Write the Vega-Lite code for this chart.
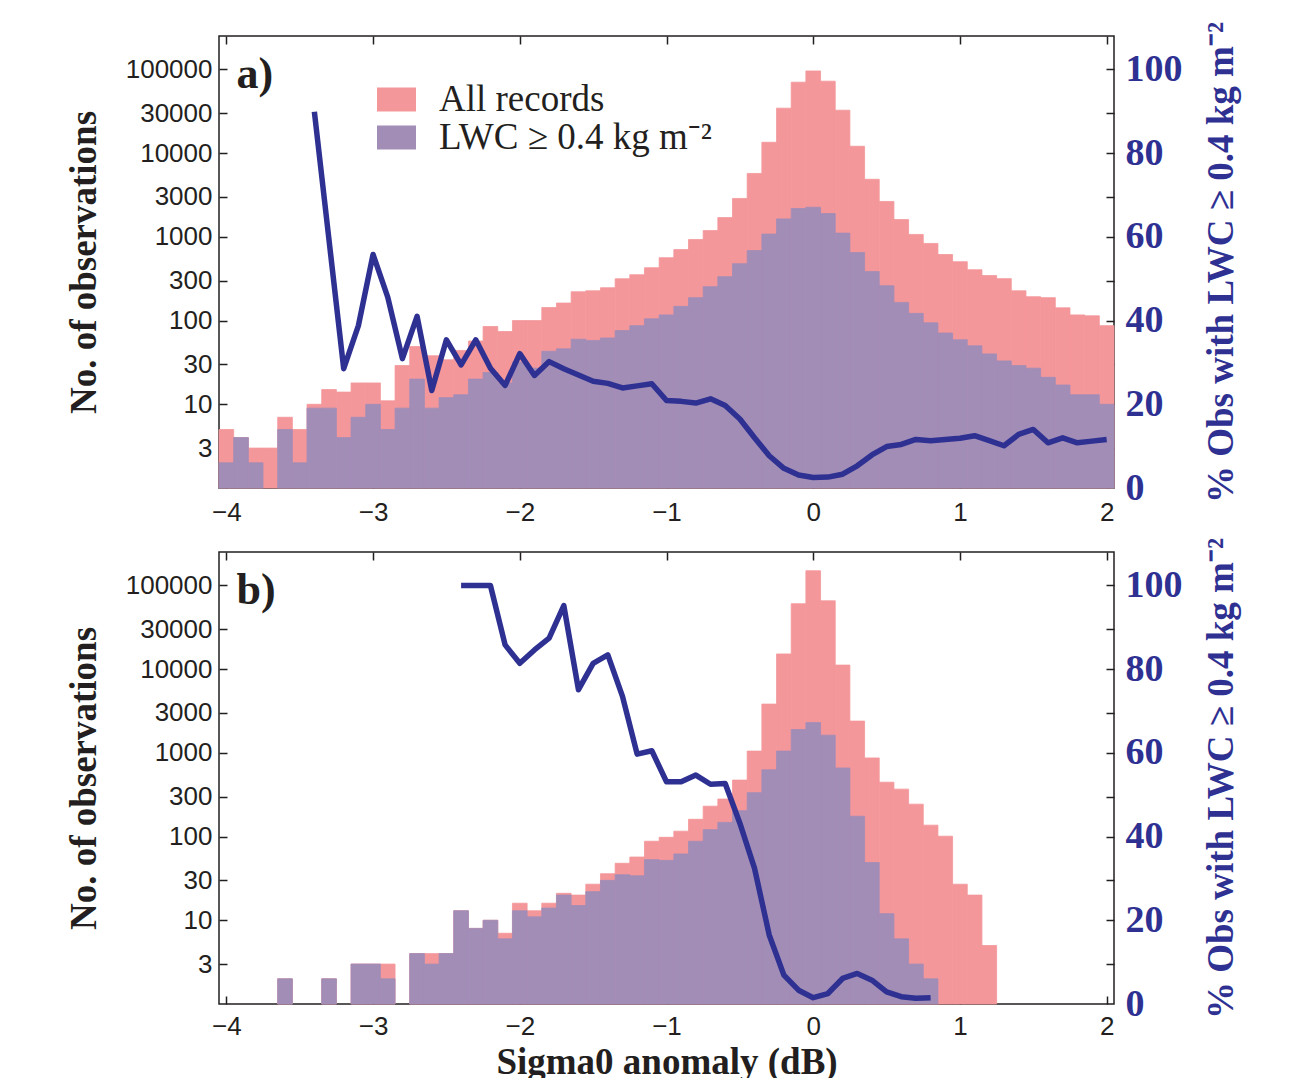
{
  "$schema": "https://vega.github.io/schema/vega-lite/v6.json",
  "padding": {"left": 64, "top": 20, "right": 5, "bottom": 5},
  "background": "white",
  "datasets": {
    "barsA": [
      {"lo": -4.05, "hi": -3.95, "all": 5, "lwc": 2},
      {"lo": -3.95, "hi": -3.85, "all": 4, "lwc": 4},
      {"lo": -3.85, "hi": -3.75, "all": 3, "lwc": 2},
      {"lo": -3.75, "hi": -3.65, "all": 3, "lwc": null},
      {"lo": -3.65, "hi": -3.55, "all": 7, "lwc": 5},
      {"lo": -3.55, "hi": -3.45, "all": 5, "lwc": 2},
      {"lo": -3.45, "hi": -3.35, "all": 10, "lwc": 9},
      {"lo": -3.35, "hi": -3.25, "all": 15, "lwc": 9},
      {"lo": -3.25, "hi": -3.15, "all": 14, "lwc": 4},
      {"lo": -3.15, "hi": -3.05, "all": 18, "lwc": 7},
      {"lo": -3.05, "hi": -2.95, "all": 18, "lwc": 10},
      {"lo": -2.95, "hi": -2.85, "all": 11, "lwc": 5},
      {"lo": -2.85, "hi": -2.75, "all": 29, "lwc": 9},
      {"lo": -2.75, "hi": -2.65, "all": 49, "lwc": 20},
      {"lo": -2.65, "hi": -2.55, "all": 38, "lwc": 9},
      {"lo": -2.55, "hi": -2.45, "all": 34, "lwc": 12},
      {"lo": -2.45, "hi": -2.35, "all": 44, "lwc": 13},
      {"lo": -2.35, "hi": -2.25, "all": 57, "lwc": 20},
      {"lo": -2.25, "hi": -2.15, "all": 85, "lwc": 24},
      {"lo": -2.15, "hi": -2.05, "all": 74, "lwc": 18},
      {"lo": -2.05, "hi": -1.95, "all": 100, "lwc": 32},
      {"lo": -1.95, "hi": -1.85, "all": 100, "lwc": 27},
      {"lo": -1.85, "hi": -1.75, "all": 143, "lwc": 43},
      {"lo": -1.75, "hi": -1.65, "all": 162, "lwc": 46},
      {"lo": -1.65, "hi": -1.55, "all": 221, "lwc": 60},
      {"lo": -1.55, "hi": -1.45, "all": 227, "lwc": 58},
      {"lo": -1.45, "hi": -1.35, "all": 247, "lwc": 62},
      {"lo": -1.35, "hi": -1.25, "all": 316, "lwc": 76},
      {"lo": -1.25, "hi": -1.15, "all": 353, "lwc": 87},
      {"lo": -1.15, "hi": -1.05, "all": 428, "lwc": 105},
      {"lo": -1.05, "hi": -0.95, "all": 564, "lwc": 117},
      {"lo": -0.95, "hi": -0.85, "all": 705, "lwc": 148},
      {"lo": -0.85, "hi": -0.75, "all": 930, "lwc": 188},
      {"lo": -0.75, "hi": -0.65, "all": 1190, "lwc": 254},
      {"lo": -0.65, "hi": -0.55, "all": 1700, "lwc": 335},
      {"lo": -0.55, "hi": -0.45, "all": 2880, "lwc": 478},
      {"lo": -0.45, "hi": -0.35, "all": 5730, "lwc": 686},
      {"lo": -0.35, "hi": -0.25, "all": 13500, "lwc": 1080},
      {"lo": -0.25, "hi": -0.15, "all": 34500, "lwc": 1640},
      {"lo": -0.15, "hi": -0.05, "all": 70500, "lwc": 2180},
      {"lo": -0.05, "hi": 0.05, "all": 96000, "lwc": 2260},
      {"lo": 0.05, "hi": 0.15, "all": 72500, "lwc": 1900},
      {"lo": 0.15, "hi": 0.25, "all": 32600, "lwc": 1110},
      {"lo": 0.25, "hi": 0.35, "all": 12100, "lwc": 650},
      {"lo": 0.35, "hi": 0.45, "all": 4880, "lwc": 385},
      {"lo": 0.45, "hi": 0.55, "all": 2650, "lwc": 261},
      {"lo": 0.55, "hi": 0.65, "all": 1610, "lwc": 165},
      {"lo": 0.65, "hi": 0.75, "all": 1070, "lwc": 122},
      {"lo": 0.75, "hi": 0.85, "all": 835, "lwc": 94},
      {"lo": 0.85, "hi": 0.95, "all": 616, "lwc": 71},
      {"lo": 0.95, "hi": 1.05, "all": 505, "lwc": 59},
      {"lo": 1.05, "hi": 1.15, "all": 405, "lwc": 50},
      {"lo": 1.15, "hi": 1.25, "all": 345, "lwc": 40},
      {"lo": 1.25, "hi": 1.35, "all": 317, "lwc": 33},
      {"lo": 1.35, "hi": 1.45, "all": 227, "lwc": 29},
      {"lo": 1.45, "hi": 1.55, "all": 193, "lwc": 27},
      {"lo": 1.55, "hi": 1.65, "all": 188, "lwc": 21},
      {"lo": 1.65, "hi": 1.75, "all": 142, "lwc": 17},
      {"lo": 1.75, "hi": 1.85, "all": 117, "lwc": 13},
      {"lo": 1.85, "hi": 1.95, "all": 114, "lwc": 13},
      {"lo": 1.95, "hi": 2.05, "all": 87, "lwc": 10}
    ],
    "lineA": [
      {"c": -3.4, "pct": 89.9}, {"c": -3.3, "pct": 59.2}, {"c": -3.2, "pct": 28.5}, {"c": -3.1, "pct": 38.8},
      {"c": -3.0, "pct": 55.8}, {"c": -2.9, "pct": 45.6}, {"c": -2.8, "pct": 30.9}, {"c": -2.7, "pct": 41.0},
      {"c": -2.6, "pct": 23.3}, {"c": -2.5, "pct": 35.4}, {"c": -2.4, "pct": 29.4}, {"c": -2.3, "pct": 35.4},
      {"c": -2.2, "pct": 28.6}, {"c": -2.1, "pct": 24.5}, {"c": -2.0, "pct": 32.1}, {"c": -1.9, "pct": 26.9},
      {"c": -1.8, "pct": 30.2}, {"c": -1.7, "pct": 28.5}, {"c": -1.6, "pct": 27.0}, {"c": -1.5, "pct": 25.5},
      {"c": -1.4, "pct": 25.0}, {"c": -1.3, "pct": 23.9}, {"c": -1.2, "pct": 24.4}, {"c": -1.1, "pct": 24.9},
      {"c": -1.0, "pct": 20.9}, {"c": -0.9, "pct": 20.7}, {"c": -0.8, "pct": 20.3}, {"c": -0.7, "pct": 21.3},
      {"c": -0.6, "pct": 19.7}, {"c": -0.5, "pct": 16.5}, {"c": -0.4, "pct": 12.0}, {"c": -0.3, "pct": 7.7},
      {"c": -0.2, "pct": 4.7}, {"c": -0.1, "pct": 3.1}, {"c": 0.0, "pct": 2.5}, {"c": 0.1, "pct": 2.6},
      {"c": 0.2, "pct": 3.3}, {"c": 0.3, "pct": 5.3}, {"c": 0.4, "pct": 7.9}, {"c": 0.5, "pct": 9.9},
      {"c": 0.6, "pct": 10.4}, {"c": 0.7, "pct": 11.6}, {"c": 0.8, "pct": 11.3}, {"c": 0.9, "pct": 11.6},
      {"c": 1.0, "pct": 11.9}, {"c": 1.1, "pct": 12.5}, {"c": 1.2, "pct": 11.3}, {"c": 1.3, "pct": 10.1},
      {"c": 1.4, "pct": 12.8}, {"c": 1.5, "pct": 14.0}, {"c": 1.6, "pct": 10.8}, {"c": 1.7, "pct": 12.0},
      {"c": 1.8, "pct": 10.8}, {"c": 1.9, "pct": 11.2}, {"c": 2.0, "pct": 11.6}
    ],
    "barsB": [
      {"lo": -3.65, "hi": -3.55, "all": 2, "lwc": 2},
      {"lo": -3.35, "hi": -3.25, "all": 2, "lwc": 2},
      {"lo": -3.15, "hi": -3.05, "all": 3, "lwc": 3},
      {"lo": -3.05, "hi": -2.95, "all": 3, "lwc": 3},
      {"lo": -2.95, "hi": -2.85, "all": 3, "lwc": 2},
      {"lo": -2.75, "hi": -2.65, "all": 4, "lwc": 4},
      {"lo": -2.65, "hi": -2.55, "all": 4, "lwc": 3},
      {"lo": -2.55, "hi": -2.45, "all": 4, "lwc": 4},
      {"lo": -2.45, "hi": -2.35, "all": 13, "lwc": 13},
      {"lo": -2.35, "hi": -2.25, "all": 8, "lwc": 8},
      {"lo": -2.25, "hi": -2.15, "all": 10, "lwc": 10},
      {"lo": -2.15, "hi": -2.05, "all": 7, "lwc": 6},
      {"lo": -2.05, "hi": -1.95, "all": 16, "lwc": 13},
      {"lo": -1.95, "hi": -1.85, "all": 13, "lwc": 11},
      {"lo": -1.85, "hi": -1.75, "all": 16, "lwc": 14},
      {"lo": -1.75, "hi": -1.65, "all": 21, "lwc": 20},
      {"lo": -1.65, "hi": -1.55, "all": 20, "lwc": 15},
      {"lo": -1.55, "hi": -1.45, "all": 27, "lwc": 22},
      {"lo": -1.45, "hi": -1.35, "all": 36, "lwc": 30},
      {"lo": -1.35, "hi": -1.25, "all": 48, "lwc": 35},
      {"lo": -1.25, "hi": -1.15, "all": 57, "lwc": 34},
      {"lo": -1.15, "hi": -1.05, "all": 88, "lwc": 53},
      {"lo": -1.05, "hi": -0.95, "all": 98, "lwc": 52},
      {"lo": -0.95, "hi": -0.85, "all": 116, "lwc": 62},
      {"lo": -0.85, "hi": -0.75, "all": 161, "lwc": 88},
      {"lo": -0.75, "hi": -0.65, "all": 231, "lwc": 121},
      {"lo": -0.65, "hi": -0.55, "all": 281, "lwc": 148},
      {"lo": -0.55, "hi": -0.45, "all": 473, "lwc": 204},
      {"lo": -0.45, "hi": -0.35, "all": 1050, "lwc": 335},
      {"lo": -0.35, "hi": -0.25, "all": 3830, "lwc": 628},
      {"lo": -0.25, "hi": -0.15, "all": 15200, "lwc": 1050},
      {"lo": -0.15, "hi": -0.05, "all": 60500, "lwc": 1900},
      {"lo": -0.05, "hi": 0.05, "all": 150000, "lwc": 2300},
      {"lo": 0.05, "hi": 0.15, "all": 65600, "lwc": 1630},
      {"lo": 0.15, "hi": 0.25, "all": 11200, "lwc": 660},
      {"lo": 0.25, "hi": 0.35, "all": 2400, "lwc": 175},
      {"lo": 0.35, "hi": 0.45, "all": 870, "lwc": 49},
      {"lo": 0.45, "hi": 0.55, "all": 447, "lwc": 12},
      {"lo": 0.55, "hi": 0.65, "all": 369, "lwc": 6},
      {"lo": 0.65, "hi": 0.75, "all": 244, "lwc": 3},
      {"lo": 0.75, "hi": 0.85, "all": 137, "lwc": 2},
      {"lo": 0.85, "hi": 0.95, "all": 101, "lwc": null},
      {"lo": 0.95, "hi": 1.05, "all": 27, "lwc": null},
      {"lo": 1.05, "hi": 1.15, "all": 20, "lwc": null},
      {"lo": 1.15, "hi": 1.25, "all": 5, "lwc": null}
    ],
    "lineB": [
      {"c": -2.4, "pct": 100}, {"c": -2.3, "pct": 100}, {"c": -2.2, "pct": 100}, {"c": -2.1, "pct": 85.8},
      {"c": -2.0, "pct": 81.4}, {"c": -1.9, "pct": 84.6}, {"c": -1.8, "pct": 87.4}, {"c": -1.7, "pct": 95.2},
      {"c": -1.6, "pct": 75.1}, {"c": -1.5, "pct": 81.4}, {"c": -1.4, "pct": 83.4}, {"c": -1.3, "pct": 73.5},
      {"c": -1.2, "pct": 59.7}, {"c": -1.1, "pct": 60.5}, {"c": -1.0, "pct": 53.1}, {"c": -0.9, "pct": 53.1},
      {"c": -0.8, "pct": 54.7}, {"c": -0.7, "pct": 52.5}, {"c": -0.6, "pct": 52.7}, {"c": -0.5, "pct": 43.2},
      {"c": -0.4, "pct": 32.4}, {"c": -0.3, "pct": 16.5}, {"c": -0.2, "pct": 6.9}, {"c": -0.1, "pct": 3.3},
      {"c": 0.0, "pct": 1.5}, {"c": 0.1, "pct": 2.5}, {"c": 0.2, "pct": 6.1}, {"c": 0.3, "pct": 7.3},
      {"c": 0.4, "pct": 5.7}, {"c": 0.5, "pct": 2.9}, {"c": 0.6, "pct": 1.75}, {"c": 0.7, "pct": 1.35},
      {"c": 0.8, "pct": 1.5}
    ],
    "labels": [{"t": "a)"}]
  },
  "vconcat": [
    {
      "width": 895,
      "height": 452,
      "resolve": {"scale": {"y": "independent"}, "axis": {"x": "independent", "y": "independent"}},
      "layer": [
        {
          "data": {"name": "barsA"},
          "mark": {"type": "rect", "stroke": "#F4979A", "strokeWidth": 0.8},
          "encoding": {
            "x": {"field": "lo", "type": "quantitative",
                  "scale": {"domain": [-4.05, 2.05], "nice": false, "zero": false},
                  "axis": {"orient": "bottom", "values": [-4, -3, -2, -1, 0, 1, 2], "title": null, "labelPadding": 19}},
            "x2": {"field": "hi"},
            "y": {"field": "all", "type": "quantitative",
                  "scale": {"type": "log", "domain": [1, 251189], "nice": false},
                  "axis": {"orient": "left", "values": [3, 10, 30, 100, 300, 1000, 3000, 10000, 30000, 100000], "format": "d", "title": "No. of observations", "labelPadding": 15, "titlePadding": 22}},
            "y2": {"datum": 1},
            "color": {"datum": "All records", "type": "nominal",
                      "scale": {"domain": ["All records", "LWC ≥ 0.4 kg m⁻²"], "range": ["#F4979A", "#A28DB7"]},
                      "legend": {"title": null, "orient": "none", "legendX": 159, "legendY": 45, "symbolType": "M-1.625,-1H1.625V1H-1.625Z", "symbolSize": 576, "symbolStrokeWidth": 0, "symbolOpacity": 1, "labelFont": "Liberation Serif", "labelFontSize": 37, "labelColor": "#231f20", "labelOffset": 24, "rowPadding": 0, "padding": 0, "labelLimit": 600}}
          }
        },
        {
          "data": {"name": "barsA"},
          "mark": {"type": "rect", "stroke": "#A28DB7", "strokeWidth": 0.8},
          "encoding": {
            "x": {"field": "lo", "type": "quantitative",
                  "axis": {"orient": "top", "values": [-4, -3, -2, -1, 0, 1, 2], "labels": false, "title": null}},
            "x2": {"field": "hi"},
            "y": {"field": "lwc", "type": "quantitative",
                  "scale": {"type": "log", "domain": [1, 251189], "nice": false},
                  "axis": {"orient": "right", "values": [3, 10, 30, 100, 300, 1000, 3000, 10000, 30000, 100000], "labels": false, "title": null}},
            "y2": {"datum": 1},
            "color": {"datum": "LWC ≥ 0.4 kg m⁻²", "type": "nominal"}
          }
        },
        {
          "data": {"name": "lineA"},
          "mark": {"type": "line", "color": "#2E3192", "strokeWidth": 5.5, "strokeJoin": "round"},
          "encoding": {
            "x": {"field": "c", "type": "quantitative", "axis": null},
            "y": {"field": "pct", "type": "quantitative",
                  "scale": {"domain": [0, 108], "nice": false, "zero": true},
                  "axis": {"orient": "right", "values": [0, 20, 40, 60, 80, 100], "ticks": false, "labelPadding": 11,
                           "labelFont": "Liberation Serif", "labelFontWeight": "bold", "labelFontSize": 38, "labelColor": "#2E3192",
                           "title": "% Obs with LWC ≥ 0.4 kg m⁻²", "titleColor": "#2E3192", "titleAngle": 270, "titlePadding": 58}}
          }
        },
        {
          "data": {"name": "labels"},
          "mark": {"type": "text", "font": "Liberation Serif", "fontWeight": "bold", "fontSize": 44, "align": "left", "baseline": "alphabetic", "color": "#231f20"},
          "encoding": {
            "x": {"datum": -3.93, "type": "quantitative", "axis": null},
            "y": {"datum": 60000, "type": "quantitative", "scale": {"type": "log", "domain": [1, 251189], "nice": false}, "axis": null},
            "text": {"value": "a)"}
          }
        }
      ]
    },
    {
      "width": 895,
      "height": 452,
      "resolve": {"scale": {"y": "independent"}, "axis": {"x": "independent", "y": "independent"}},
      "layer": [
        {
          "data": {"name": "barsB"},
          "mark": {"type": "rect", "color": "#F4979A", "stroke": "#F4979A", "strokeWidth": 0.8},
          "encoding": {
            "x": {"field": "lo", "type": "quantitative",
                  "scale": {"domain": [-4.05, 2.05], "nice": false, "zero": false},
                  "axis": {"orient": "bottom", "values": [-4, -3, -2, -1, 0, 1, 2], "title": "Sigma0 anomaly (dB)", "labelPadding": 17, "titlePadding": 5}},
            "x2": {"field": "hi"},
            "y": {"field": "all", "type": "quantitative",
                  "scale": {"type": "log", "domain": [1, 251189], "nice": false},
                  "axis": {"orient": "left", "values": [3, 10, 30, 100, 300, 1000, 3000, 10000, 30000, 100000], "format": "d", "title": "No. of observations", "labelPadding": 15, "titlePadding": 22}},
            "y2": {"datum": 1}
          }
        },
        {
          "data": {"name": "barsB"},
          "mark": {"type": "rect", "color": "#A28DB7", "stroke": "#A28DB7", "strokeWidth": 0.8},
          "encoding": {
            "x": {"field": "lo", "type": "quantitative",
                  "axis": {"orient": "top", "values": [-4, -3, -2, -1, 0, 1, 2], "labels": false, "title": null}},
            "x2": {"field": "hi"},
            "y": {"field": "lwc", "type": "quantitative",
                  "scale": {"type": "log", "domain": [1, 251189], "nice": false},
                  "axis": {"orient": "right", "values": [3, 10, 30, 100, 300, 1000, 3000, 10000, 30000, 100000], "labels": false, "title": null}},
            "y2": {"datum": 1}
          }
        },
        {
          "data": {"name": "lineB"},
          "mark": {"type": "line", "color": "#2E3192", "strokeWidth": 5.5, "strokeJoin": "round"},
          "encoding": {
            "x": {"field": "c", "type": "quantitative", "axis": null},
            "y": {"field": "pct", "type": "quantitative",
                  "scale": {"domain": [0, 108], "nice": false, "zero": true},
                  "axis": {"orient": "right", "values": [0, 20, 40, 60, 80, 100], "ticks": false, "labelPadding": 11,
                           "labelFont": "Liberation Serif", "labelFontWeight": "bold", "labelFontSize": 38, "labelColor": "#2E3192",
                           "title": "% Obs with LWC ≥ 0.4 kg m⁻²", "titleColor": "#2E3192", "titleAngle": 270, "titlePadding": 58}}
          }
        },
        {
          "data": {"name": "labels"},
          "mark": {"type": "text", "font": "Liberation Serif", "fontWeight": "bold", "fontSize": 44, "align": "left", "baseline": "alphabetic", "color": "#231f20"},
          "encoding": {
            "x": {"datum": -3.93, "type": "quantitative", "axis": null},
            "y": {"datum": 60000, "type": "quantitative", "scale": {"type": "log", "domain": [1, 251189], "nice": false}, "axis": null},
            "text": {"value": "b)"}
          }
        }
      ]
    }
  ],
  "spacing": 64,
  "bounds": "flush",
  "config": {
    "view": {"stroke": "#231f20", "strokeWidth": 1.5},
    "axis": {
      "grid": false, "domain": false,
      "tickColor": "#231f20", "tickWidth": 1.5, "tickSize": -8,
      "labelFont": "Liberation Sans", "labelFontSize": 26, "labelColor": "#231f20",
      "titleFont": "Liberation Serif", "titleFontWeight": "bold", "titleFontSize": 37, "titleColor": "#231f20"
    }
  }
}
